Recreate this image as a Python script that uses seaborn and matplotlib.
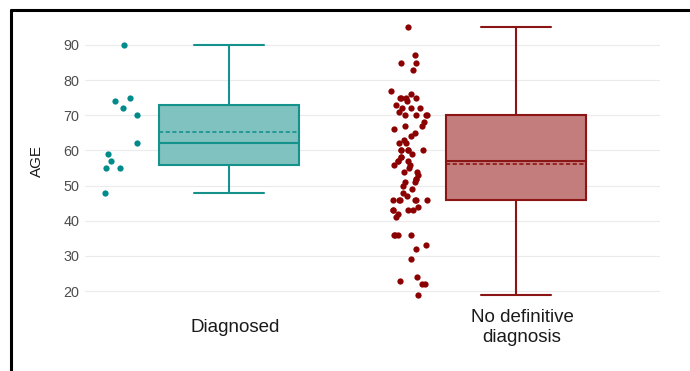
import numpy as np
import pandas as pd
import matplotlib
matplotlib.use("Agg")
import matplotlib.pyplot as plt
import seaborn as sns
from matplotlib.lines import Line2D

categories = ["Diagnosed", "No definitive\ndiagnosis"]
diagnosed_age = [90, 75, 74, 72, 70, 62, 59, 57, 55, 55, 48]
no_diag_age = [95, 87, 85, 85, 83, 77, 76, 75, 75, 75, 75, 74, 73, 72, 72, 72, 71,
               70, 70, 70, 70, 68, 67, 67, 66, 65, 64, 63, 62, 62, 60, 60, 60, 60, 60,
               59, 58, 58, 57, 57, 57, 56, 56, 55, 54, 54, 53, 52, 52, 51, 51, 50,
               49, 48, 47, 46, 46, 46, 46, 46, 46, 44, 43, 43, 43, 43, 42, 41,
               36, 36, 36, 36, 33, 32, 29, 24, 23, 22, 22, 19]
yticks = [20, 30, 40, 50, 60, 70, 80, 90]

edge_cols = ["#16928d", "#8b1515"]
fill_cols = ["#7fc2bf", "#c47d7d"]
pt_cols = ["#008b8b", "#8b0000"]

sns.set_theme(style="white")
plt.rcParams['font.family'] = ['Liberation Sans', 'DejaVu Sans']

fig = plt.figure(figsize=(6.9, 3.71), dpi=100)
ax = fig.add_axes([85/690, 1-308/371, (660-85)/690, (308-14)/371])

box_off = -0.021
pt_off = -0.393
rows = []
for i, vals in enumerate([diagnosed_age, no_diag_age]):
    for v in vals:
        rows.append({"grp": i, "age": v})
df = pd.DataFrame(rows)
df["box_x"] = df["grp"] + box_off
df["pt_x"] = df["grp"] + pt_off

np.random.seed(3)
for i in range(2):
    sub = df[df["grp"] == i]
    sns.boxplot(data=sub, x="box_x", y="age", native_scale=True, width=0.49,
                ax=ax, color=fill_cols[i], linecolor=edge_cols[i], linewidth=1.5,
                showmeans=True, meanline=True, showfliers=False, saturation=1,
                meanprops=dict(linestyle=(0, (2.5, 1.5)), color=edge_cols[i], linewidth=1.2),
                capprops=dict(color=edge_cols[i]),
                whiskerprops=dict(color=edge_cols[i]),
                medianprops=dict(color=edge_cols[i], linewidth=1.5))
    sns.stripplot(data=sub, x="pt_x", y="age", native_scale=True, jitter=0.065,
                  ax=ax, color=pt_cols[i], size=4.5, linewidth=0)

ax.set_xlim(-0.523, 1.481)
ax.set_ylim(15.2, 98.8)
ax.set_yticks(yticks)
ax.set_yticklabels([str(t) for t in yticks], fontsize=10.4, color="#4d4d4d")
ax.set_xticks([0, 1])
ax.set_xticklabels(categories, fontsize=13.5, color="#1a1a1a", linespacing=1.25,
                   va="center")
ax.tick_params(axis="x", length=0, pad=14)
ax.tick_params(axis="y", length=0, pad=4)
ax.set_xlabel("")
ax.set_ylabel("AGE", fontsize=11, color="#1a1a1a", labelpad=14)
for s in ax.spines.values():
    s.set_visible(False)
ax.yaxis.grid(True, color="#ebebeb", linewidth=0.8)
ax.set_axisbelow(True)

fig.add_artist(Line2D([11/690, 1.0], [1-10/371, 1-10/371], color="black", linewidth=2.2,
                      transform=fig.transFigure))
fig.add_artist(Line2D([11/690, 11/690], [1-10/371, 0], color="black", linewidth=2.2,
                      transform=fig.transFigure))

fig.savefig("out.png", dpi=100)
